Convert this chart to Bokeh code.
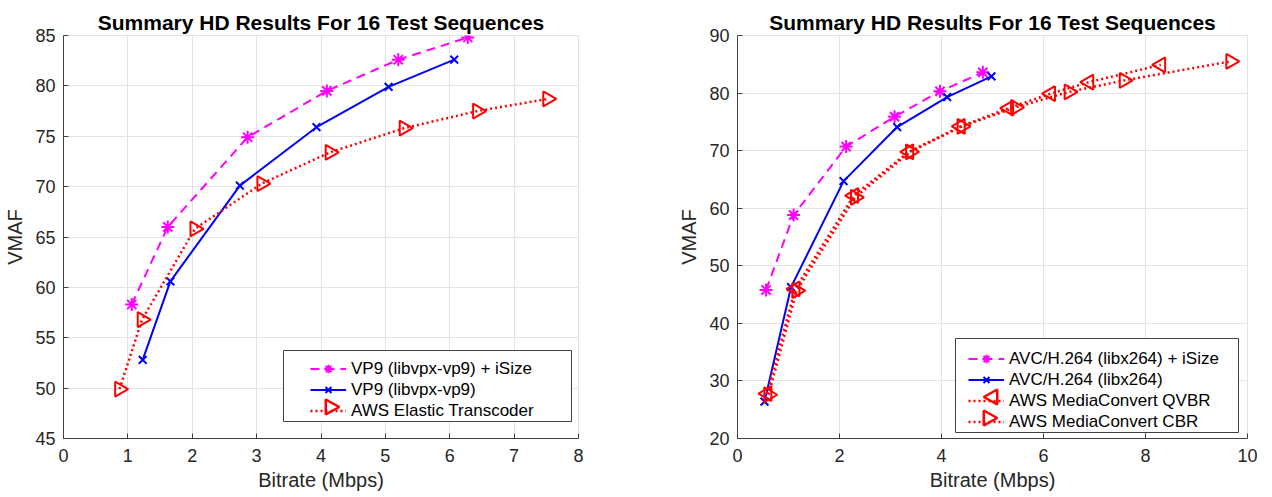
import numpy as np
from bokeh.plotting import figure
from bokeh.layouts import row
from bokeh.models import (Range1d, Legend, LegendItem, FixedTicker,
                          BoxAnnotation, PolyAnnotation)
from bokeh.embed import file_html
from bokeh.resources import INLINE

# ---------------- data: left panel (VP9) ----------------
vp9_isize_x = [1.06, 1.62, 2.86, 4.09, 5.20, 6.28]
vp9_isize_y = [58.3, 66.0, 74.9, 79.5, 82.6, 84.8]
vp9_x = [1.23, 1.66, 2.74, 3.93, 5.05, 6.07]
vp9_y = [52.8, 60.6, 70.1, 75.9, 79.9, 82.6]
aws_et_x = [0.87, 1.22, 2.04, 3.08, 4.14, 5.29, 6.43, 7.52]
aws_et_y = [49.9, 56.8, 65.8, 70.3, 73.4, 75.8, 77.5, 78.7]

# ---------------- data: right panel (AVC) ----------------
avc_isize_x = [0.56, 1.10, 2.13, 3.08, 3.97, 4.81]
avc_isize_y = [45.8, 58.8, 70.7, 75.9, 80.3, 83.6]
avc_x = [0.53, 1.05, 2.08, 3.13, 4.11, 4.98]
avc_y = [26.4, 46.3, 64.7, 74.1, 79.3, 82.9]
qvbr_x = [0.58, 1.13, 2.28, 3.36, 4.37, 5.32, 6.14, 6.89, 8.30]
qvbr_y = [27.8, 46.0, 62.2, 69.8, 74.2, 77.4, 79.9, 81.9, 84.9]
cbr_x = [0.61, 1.16, 2.31, 3.39, 4.40, 5.45, 6.50, 7.58, 9.67]
cbr_y = [27.6, 45.7, 61.9, 69.8, 74.2, 77.5, 80.2, 82.2, 85.5]

left_xticks = [0, 1, 2, 3, 4, 5, 6, 7, 8]
left_yticks = [45, 50, 55, 60, 65, 70, 75, 80, 85]
right_xticks = [0, 2, 4, 6, 8, 10]
right_yticks = [20, 30, 40, 50, 60, 70, 80, 90]

title_text = "Summary HD Results For 16 Test Sequences"
x_label = "Bitrate (Mbps)"
y_label = "VMAF"
left_labels = ["VP9 (libvpx-vp9) + iSize", "VP9 (libvpx-vp9)", "AWS Elastic Transcoder"]
right_labels = ["AVC/H.264 (libx264) + iSize", "AVC/H.264 (libx264)",
                "AWS MediaConvert QVBR", "AWS MediaConvert CBR"]

FONT = "Liberation Sans"
DARK = "#404040"
TXT = "#262626"
GRID = "#e3e3e3"
MAGENTA = "#ff00ff"
BLUE = "#0000ff"
RED = "#ff0000"

FIG_H = 497
TOP = 35
BOTTOM = 59

# legend geometry (screen px relative to frame bottom-left)
ROW_H = 21
PAD = 4
GLYPH_W = 36
TRI_SIZE = 15


def make_fig(width, xr, yr, xticks, yticks, mbl, mbr):
    p = figure(width=width, height=FIG_H, output_backend="svg", toolbar_location=None,
               x_range=Range1d(*xr), y_range=Range1d(*yr),
               min_border_left=mbl, min_border_right=mbr,
               min_border_top=TOP, min_border_bottom=BOTTOM)
    p.title.text = title_text
    p.title.align = "center"
    p.title.text_font = FONT
    p.title.text_font_size = "21px"
    p.title.text_font_style = "bold"
    p.title.text_color = "#000000"
    p.title.offset = 0
    p.title.standoff = 3
    p.xaxis.ticker = FixedTicker(ticks=xticks)
    p.yaxis.ticker = FixedTicker(ticks=yticks)
    for ax in (p.xaxis[0], p.yaxis[0]):
        ax.axis_line_color = DARK
        ax.major_tick_line_color = DARK
        ax.major_tick_in = 5
        ax.major_tick_out = 0
        ax.minor_tick_line_color = None
        ax.major_label_text_font = FONT
        ax.major_label_text_font_size = "18px"
        ax.major_label_text_color = TXT
        ax.axis_label_text_font = FONT
        ax.axis_label_text_font_style = "normal"
        ax.axis_label_text_color = TXT
        ax.axis_label_text_font_size = "20px"
    p.xaxis.axis_label = x_label
    p.xaxis.axis_label_standoff = 4
    p.xaxis.major_label_standoff = 10
    p.yaxis.axis_label = y_label
    p.yaxis.axis_label_standoff = 6
    p.yaxis.major_label_standoff = 8
    p.xgrid.grid_line_color = GRID
    p.ygrid.grid_line_color = GRID
    p.xgrid.ticker = FixedTicker(ticks=xticks)
    p.ygrid.ticker = FixedTicker(ticks=yticks)
    p.outline_line_color = GRID
    p.outline_line_alpha = 1.0
    p.background_fill_color = "white"
    p.border_fill_color = "white"
    return p


def series(p, x, y, color, dash, marker, size, angle=0.0, lw=2.0):
    l = p.line(x, y, line_color=color, line_width=lw, line_dash=dash)
    s = p.scatter(x, y, marker=marker, size=size, line_color=color, fill_color=None,
                  line_width=2, angle=angle)
    return l, s


def add_legend(p, items, box, lead):
    # box = (left, right, bottom, top) of the legend frame, relative to plot frame
    left, right, bottom, top = box
    p.add_layout(BoxAnnotation(left=left, right=right, bottom=bottom, top=top,
                               left_units="screen", right_units="screen",
                               bottom_units="screen", top_units="screen",
                               fill_color="white", fill_alpha=1.0,
                               line_color=DARK, line_width=1, line_alpha=1.0))
    lg = Legend(items=items, location=(left + lead - PAD, bottom))
    lg.label_text_font = FONT
    lg.label_text_font_size = "17px"
    lg.label_text_color = "#000000"
    lg.border_line_color = None
    lg.background_fill_alpha = 0.0
    lg.glyph_width = GLYPH_W
    lg.glyph_height = ROW_H
    lg.label_height = ROW_H
    lg.spacing = 0
    lg.padding = PAD
    lg.margin = 0
    lg.label_standoff = 5
    p.add_layout(lg)
    return left + lead + GLYPH_W / 2.0, bottom + PAD + ROW_H / 2.0


def legend_triangle(p, cx, cy, direction):
    h = TRI_SIZE / 2.0
    w = TRI_SIZE * 0.45
    if direction == "right":
        xs = [cx + w, cx - w, cx - w]
    else:
        xs = [cx - w, cx + w, cx + w]
    ys = [cy, cy + h, cy - h]
    p.add_layout(PolyAnnotation(xs=xs, ys=ys, xs_units="screen", ys_units="screen",
                                fill_alpha=0.0, line_color=RED, line_width=2.5,
                                line_alpha=1.0))


# ---------------- left figure ----------------
p1 = make_fig(673, (0, 8), (45, 85), left_xticks, left_yticks, 63, 95)
a_l, a_s = series(p1, vp9_isize_x, vp9_isize_y, MAGENTA, "9 6", "asterisk", 13)
b_l, b_s = series(p1, vp9_x, vp9_y, BLUE, "solid", "x", 11)
c_l, c_s = series(p1, aws_et_x, aws_et_y, RED, "2 3", "triangle", TRI_SIZE,
                  angle=-np.pi / 2, lw=2.5)
gx, gy = add_legend(p1, [LegendItem(label=left_labels[0], renderers=[a_l, a_s]),
                         LegendItem(label=left_labels[1], renderers=[b_l, b_s]),
                         LegendItem(label=left_labels[2], renderers=[c_l])],
                    (220, 508, 17, 88), 31)
legend_triangle(p1, gx, gy, "right")

# ---------------- right figure ----------------
p2 = make_fig(591, (0, 10), (20, 90), right_xticks, right_yticks, 64, 17)
d_l, d_s = series(p2, avc_isize_x, avc_isize_y, MAGENTA, "9 6", "asterisk", 13)
e_l, e_s = series(p2, avc_x, avc_y, BLUE, "solid", "x", 11)
f_l, f_s = series(p2, qvbr_x, qvbr_y, RED, "2 3", "triangle", TRI_SIZE,
                  angle=np.pi / 2, lw=2.5)
g_l, g_s = series(p2, cbr_x, cbr_y, RED, "2 3", "triangle", TRI_SIZE,
                  angle=-np.pi / 2, lw=2.5)
hx, hy = add_legend(p2, [LegendItem(label=right_labels[0], renderers=[d_l, d_s]),
                         LegendItem(label=right_labels[1], renderers=[e_l, e_s]),
                         LegendItem(label=right_labels[2], renderers=[f_l]),
                         LegendItem(label=right_labels[3], renderers=[g_l])],
                    (218, 501, 6, 100), 17)
legend_triangle(p2, hx, hy, "right")
legend_triangle(p2, hx, hy + ROW_H, "left")

layout = row(p1, p2, spacing=0)
open("out.html", "w").write(file_html(layout, INLINE))
